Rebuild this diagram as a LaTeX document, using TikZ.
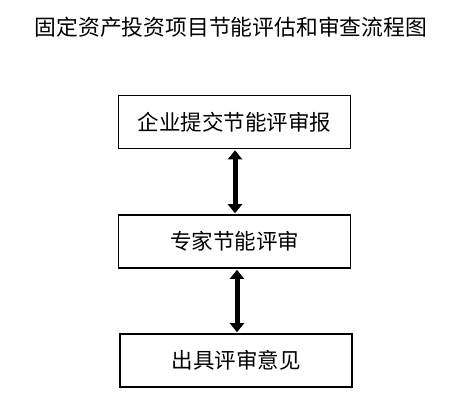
\documentclass[tikz,border=0pt]{standalone}
\usepackage{fontspec}
\setmainfont{Noto Sans CJK SC}
\usetikzlibrary{arrows.meta}
\begin{document}
\begin{tikzpicture}[x=1pt,y=-1pt,
  stepbox/.style={draw=black,line width=1.6pt,minimum width=232pt,minimum height=53pt,inner sep=0pt,font=\fontsize{21.5}{24}\selectfont},
  link/.style={line width=5pt,{Triangle[length=9pt,width=14pt]}-{Triangle[length=9pt,width=14pt]},shorten <=1pt,shorten >=1pt}]
\useasboundingbox (0,0) rectangle (458,405);
\node[font=\fontsize{21.8}{24}\selectfont,inner sep=0pt] (title) at (231,27) {固定资产投资项目节能评估和审查流程图};
\node[stepbox] (b1) at (234.5,122) {企业提交节能评审报};
\node[stepbox] (b2) at (234.5,241.5) {专家节能评审};
\node[stepbox] (b3) at (236,360.5) {出具评审意见};
\draw[link] ([xshift=0.5pt]b1.south) -- ([xshift=0.5pt]b1.south |- b2.north);
\draw[link] ([xshift=2.5pt]b2.south) -- ([xshift=2.5pt]b2.south |- b3.north);
\end{tikzpicture}
\end{document}
